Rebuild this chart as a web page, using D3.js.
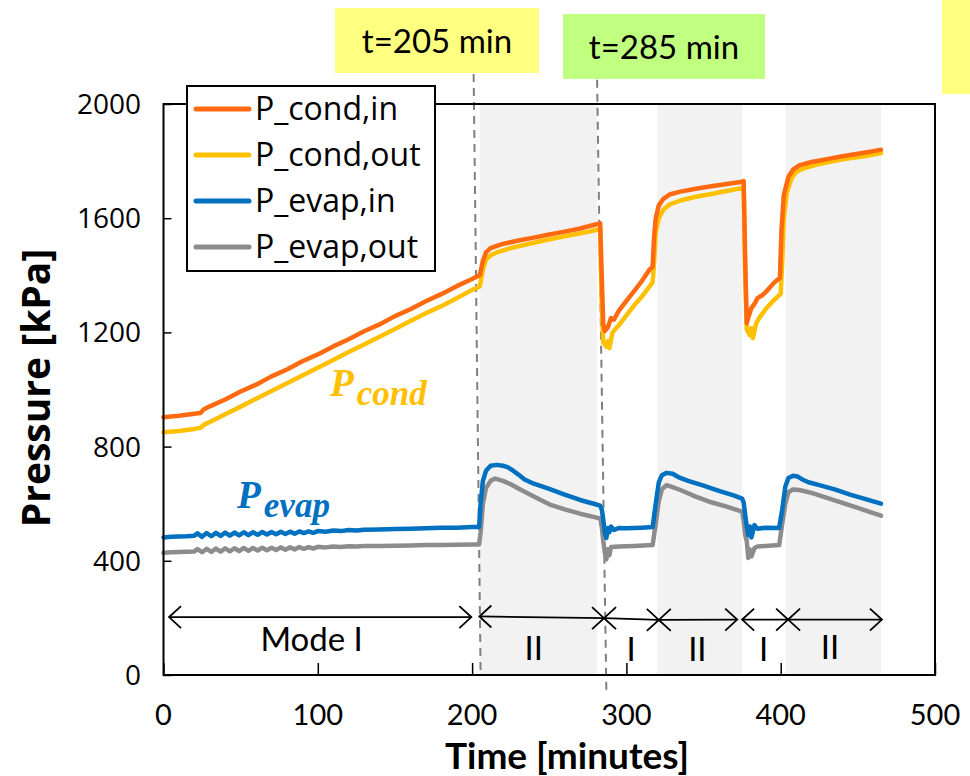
<!DOCTYPE html>
<html>
<head>
<meta charset="utf-8">
<script src="https://cdn.jsdelivr.net/npm/d3@7"></script>
<style>
	body { margin: 0; background: #fff; }
	svg { display: block; }
</style>
</head>
<body>
<script>
// time [min], pressure [kPa]
const pCondIn = [
	[0, 903], [10, 908], [20, 915], [24, 918], [26, 930], [30, 941], [40, 965], [50, 993],
	[60, 1017], [70, 1046], [80, 1070], [90, 1099], [100, 1123], [110, 1151], [120, 1176],
	[130, 1204], [140, 1228], [150, 1257], [160, 1281], [170, 1309], [180, 1334], [190, 1362],
	[200, 1387], [204, 1398], [205, 1402], [207, 1450], [209, 1480], [212, 1495], [216, 1503],
	[220, 1510], [225, 1516], [230, 1522], [240, 1532], [250, 1543], [260, 1553], [270, 1564],
	[280, 1578], [283, 1582], [284, 1400], [285, 1230], [286, 1205], [288, 1218], [290, 1250],
	[292, 1245], [295, 1275], [300, 1310], [305, 1345], [310, 1380], [315, 1420], [317, 1430],
	[318, 1540], [319, 1600], [321, 1645], [324, 1668], [328, 1683], [335, 1693], [345, 1703],
	[355, 1712], [365, 1720], [375, 1728], [376, 1730], [377, 1450], [378, 1232], [379, 1252],
	[381, 1285], [383, 1300], [385, 1320], [388, 1330], [391, 1345], [395, 1370], [398, 1385],
	[399.5, 1390], [400.5, 1560], [402, 1680], [405, 1745], [408, 1770], [412, 1785],
	[420, 1797], [430, 1807], [440, 1817], [450, 1826], [460, 1835], [465, 1840]
];
const pCondOut = [
	[0, 850], [10, 855], [20, 862], [24, 866], [26, 876], [30, 886], [40, 913], [50, 940],
	[60, 968], [70, 995], [80, 1022], [90, 1049], [100, 1076], [110, 1103], [120, 1131],
	[130, 1158], [140, 1185], [150, 1212], [160, 1240], [170, 1267], [180, 1292], [190, 1320],
	[200, 1349], [204, 1358], [205, 1362], [207, 1420], [209, 1455], [212, 1470], [216, 1480],
	[225, 1495], [235, 1508], [245, 1520], [255, 1531], [265, 1542], [275, 1552], [283, 1562],
	[284, 1300], [285, 1165], [287, 1150], [288, 1170], [289, 1145], [291, 1200], [295, 1225],
	[300, 1260], [305, 1295], [310, 1325], [317, 1375], [318, 1450], [319, 1550], [321, 1600],
	[324, 1630], [328, 1648], [335, 1662], [345, 1675], [355, 1685], [365, 1695], [376, 1707],
	[377, 1400], [378, 1210], [380, 1190], [381, 1215], [382, 1180], [384, 1230], [386, 1250],
	[390, 1280], [395, 1310], [400, 1335], [401, 1450], [402, 1600], [404, 1690], [407, 1740],
	[410, 1762], [415, 1775], [425, 1790], [440, 1806], [455, 1818], [465, 1828]
];
const pEvapIn = [
	[0, 482], [5, 484], [10, 485], [15, 486], [20, 488], [22, 496], [25, 484], [28, 497],
	[31, 486], [34, 498], [37, 487], [40, 499], [43, 488], [46, 499], [49, 489], [52, 500],
	[55, 490], [58, 500], [61, 491], [64, 501], [67, 492], [70, 501], [73, 493], [76, 502],
	[79, 494], [82, 502], [85, 495], [88, 503], [91, 497], [94, 503], [97, 498], [100, 504],
	[105, 502], [110, 506], [115, 504], [120, 508], [125, 506], [130, 509], [140, 510],
	[150, 511], [160, 512], [170, 514], [180, 516], [190, 516], [200, 518], [204.5, 518],
	[205.5, 600], [207, 680], [209, 715], [212, 733], [216, 736], [220, 733], [223, 728],
	[226, 718], [230, 702], [234, 685], [240, 670], [250, 652], [260, 632], [270, 613],
	[280, 598], [283, 593], [284, 580], [285, 545], [286, 500], [287, 480], [288, 515],
	[289, 500], [290, 520], [292, 508], [295, 515], [300, 514], [310, 516], [317, 518],
	[319, 600], [321, 675], [323, 700], [326, 708], [330, 705], [334, 692], [340, 680],
	[350, 663], [360, 645], [370, 628], [375, 618], [376, 605], [377, 560], [378, 520],
	[379, 490], [380, 520], [381, 482], [383, 525], [385, 512], [390, 516], [399, 515],
	[401, 580], [403, 660], [405, 690], [408, 698], [411, 695], [414, 685], [418, 675],
	[425, 665], [435, 650], [445, 632], [455, 616], [465, 600]
];
const pEvapOut = [
	[0, 428], [5, 430], [10, 431], [15, 432], [20, 433], [22, 441], [25, 430], [28, 442],
	[31, 431], [34, 443], [37, 432], [40, 444], [43, 433], [46, 444], [49, 434], [52, 445],
	[55, 435], [58, 445], [61, 436], [64, 446], [67, 437], [70, 446], [73, 438], [76, 447],
	[79, 439], [82, 447], [85, 440], [88, 448], [91, 442], [94, 448], [97, 443], [100, 449],
	[105, 447], [110, 450], [115, 448], [120, 451], [125, 450], [130, 452], [140, 452],
	[150, 453], [160, 454], [170, 455], [180, 455], [190, 456], [200, 457], [204.5, 457],
	[205.5, 500], [207, 600], [209, 655], [212, 680], [215, 688], [220, 680], [225, 668],
	[230, 653], [240, 625], [250, 598], [260, 580], [270, 565], [280, 552], [283, 548],
	[284, 520], [285, 470], [286, 430], [287, 405], [288, 440], [289, 420], [290, 448],
	[295, 450], [305, 452], [317, 455], [319, 530], [321, 610], [323, 650], [326, 665],
	[330, 658], [335, 648], [345, 625], [355, 605], [365, 590], [375, 572], [376, 540],
	[377, 490], [378, 470], [379, 410], [380, 440], [381, 415], [383, 445], [385, 450],
	[399, 455], [401, 530], [403, 600], [405, 640], [408, 650], [412, 648], [420, 638],
	[430, 620], [440, 603], [450, 585], [460, 567], [465, 558]
];

const seriesNames = ["P_cond,in", "P_cond,out", "P_evap,in", "P_evap,out"];
const seriesColors = ["#ff6a10", "#ffc000", "#0070c0", "#8c8c8c"];
const xTicks = [0, 100, 200, 300, 400, 500];
const yTicks = [0, 400, 800, 1200, 1600, 2000];

// mode II periods (shaded)
const modeTwoSpans = [[205, 281], [320, 375], [403, 465]];
// double arrows along the bottom: [tStart, tEnd, pStart, pEnd]
const modeArrows = [
	[3.6, 199.5, 203, 203], [204.7, 285.5, 205, 199], [285.5, 321, 199, 193],
	[321, 371.8, 193, 194], [375, 404.8, 194, 194], [404.8, 465.6, 194, 194]
];
const modeLabels = [["Mode I", 96, 127], ["II", 240, 95], ["I", 303, 92], ["II", 346, 92], ["I", 389, 92], ["II", 432, 97]];
// dashed markers: [tTop, pTop, tBottom, pBottom]
const markerLines = [[201, 2105, 205.5, 10], [281, 2085, 287, -52]];

const W = 970, H = 776;
const svg = d3.select("body").append("svg").attr("width", W).attr("height", H);

const x = d3.scaleLinear().domain([0, 500]).range([163.5, 935]);
const y = d3.scaleLinear().domain([0, 2000]).range([675, 104]);

// shaded mode II bands
svg.append("g")
	.selectAll("rect")
	.data(modeTwoSpans)
	.join("rect")
	.attr("x", d => x(d[0]))
	.attr("y", y(2000))
	.attr("width", d => x(d[1]) - x(d[0]))
	.attr("height", y(0) - y(2000))
	.attr("fill", "#f2f2f2");

// axes (ticks pointing inward)
svg.append("g")
	.attr("transform", `translate(0,${y(0)})`)
	.call(d3.axisTop(x).tickValues(xTicks).tickSize(12).tickFormat(""))
	.call(g => g.select(".domain").remove())
	.call(g => g.selectAll("line").attr("stroke", "#000").attr("stroke-width", 1.5));
svg.append("g")
	.attr("transform", `translate(${x(0)},0)`)
	.call(d3.axisRight(y).tickValues(yTicks).tickSize(8).tickFormat(""))
	.call(g => g.select(".domain").remove())
	.call(g => g.selectAll("line").attr("stroke", "#000").attr("stroke-width", 1.5));

svg.append("g")
	.selectAll("text")
	.data(xTicks)
	.join("text")
	.attr("x", d => x(d))
	.attr("y", 725)
	.attr("text-anchor", "middle")
	.attr("font-family", "Lato")
	.attr("font-size", 29)
	.text(d => d);

svg.append("g")
	.selectAll("text")
	.data(yTicks)
	.join("text")
	.attr("x", 141)
	.attr("y", d => y(d) + 10)
	.attr("text-anchor", "end")
	.attr("font-family", "Open Sans")
	.attr("font-size", 28)
	.text(d => d);

svg.append("text") // x title
	.attr("x", 567)
	.attr("y", 769)
	.attr("text-anchor", "middle")
	.attr("font-family", "Lato")
	.attr("font-weight", "bold")
	.attr("font-size", 37)
	.text("Time [minutes]");

svg.append("text") // y title
	.attr("transform", "translate(50,388) rotate(-90)")
	.attr("text-anchor", "middle")
	.attr("font-family", "Open Sans")
	.attr("font-weight", "bold")
	.attr("font-size", 39)
	.text("Pressure [kPa]");

// dashed markers
svg.append("g")
	.selectAll("line")
	.data(markerLines)
	.join("line")
	.attr("x1", d => x(d[0]))
	.attr("y1", d => y(d[1]))
	.attr("x2", d => x(d[2]))
	.attr("y2", d => y(d[3]))
	.attr("stroke", "#7f7f7f")
	.attr("stroke-width", 2)
	.attr("stroke-dasharray", "8,6");

// the four pressure lines
const allSeries = [pCondIn, pCondOut, pEvapIn, pEvapOut];
const line = d3.line().x(d => x(d[0])).y(d => y(d[1])).curve(d3.curveLinear);
svg.append("g")
	.selectAll("path")
	.data([3, 2, 1, 0])
	.join("path")
	.attr("d", i => line(allSeries[i]))
	.attr("fill", "none")
	.attr("stroke", i => seriesColors[i])
	.attr("stroke-width", 4.5)
	.attr("stroke-linejoin", "round")
	.attr("stroke-linecap", "round");

// mode arrows
const arrows = svg.append("g").attr("stroke", "#000").attr("stroke-width", 1.8).attr("fill", "none");
modeArrows.forEach(a => {
	const x1 = x(a[0]), y1 = y(a[2]), x2 = x(a[1]), y2 = y(a[3]);
	arrows.append("line").attr("x1", x1).attr("y1", y1).attr("x2", x2).attr("y2", y2);
	arrows.append("path").attr("d", `M${x1 + 12},${y1 - 11}L${x1},${y1}L${x1 + 12},${y1 + 11}`);
	arrows.append("path").attr("d", `M${x2 - 12},${y2 - 11}L${x2},${y2}L${x2 - 12},${y2 + 11}`);
});

svg.append("g")
	.selectAll("text")
	.data(modeLabels)
	.join("text")
	.attr("x", d => x(d[1]))
	.attr("y", d => y(d[2]) + 12)
	.attr("text-anchor", "middle")
	.attr("font-family", "Lato")
	.attr("font-size", 33)
	.text(d => d[0]);

// plot frame
svg.append("rect")
	.attr("x", x(0))
	.attr("y", y(2000))
	.attr("width", x(500) - x(0))
	.attr("height", y(0) - y(2000))
	.attr("fill", "none")
	.attr("stroke", "#000")
	.attr("stroke-width", 2);

// legend
const legend = svg.append("g");
legend.append("rect")
	.attr("x", 187)
	.attr("y", 86)
	.attr("width", 248)
	.attr("height", 185)
	.attr("fill", "#fff")
	.attr("stroke", "#000")
	.attr("stroke-width", 2);
seriesNames.forEach((name, i) => {
	const ly = 109 + i * 46;
	legend.append("line")
		.attr("x1", 196).attr("x2", 249)
		.attr("y1", ly).attr("y2", ly)
		.attr("stroke", seriesColors[i])
		.attr("stroke-width", 5)
		.attr("stroke-linecap", "round");
	legend.append("text")
		.attr("x", 255)
		.attr("y", ly + 11)
		.attr("font-family", "Open Sans")
		.attr("font-size", 32)
		.text(name);
});

// callout boxes
const callouts = [["t=205 min", 335, 8, 204, 65, "#ffff80"], ["t=285 min", 563, 14, 202, 65, "#c0ff80"]];
callouts.forEach(c => {
	svg.append("rect").attr("x", c[1]).attr("y", c[2]).attr("width", c[3]).attr("height", c[4]).attr("fill", c[5]);
	svg.append("text")
		.attr("x", c[1] + c[3] / 2)
		.attr("y", c[2] + c[4] / 2 + 12)
		.attr("text-anchor", "middle")
		.attr("font-family", "Lato")
		.attr("font-size", 33)
		.text(c[0]);
});
svg.append("rect").attr("x", 942).attr("y", 0).attr("width", 28).attr("height", 94).attr("fill", "#ffff80");

// P_cond / P_evap labels
const pLabels = [["cond", 330, 396, "#ffc000"], ["evap", 237, 508, "#0070c0"]];
pLabels.forEach(l => {
	const t = svg.append("text")
		.attr("x", l[1])
		.attr("y", l[2])
		.attr("font-family", "Liberation Serif")
		.attr("font-weight", "bold")
		.attr("font-style", "italic")
		.attr("fill", l[3]);
	t.append("tspan").attr("font-size", 39).text("P");
	t.append("tspan").attr("font-size", 35).attr("dx", 3).attr("dy", 9).text(l[0]);
});
</script>
</body>
</html>
